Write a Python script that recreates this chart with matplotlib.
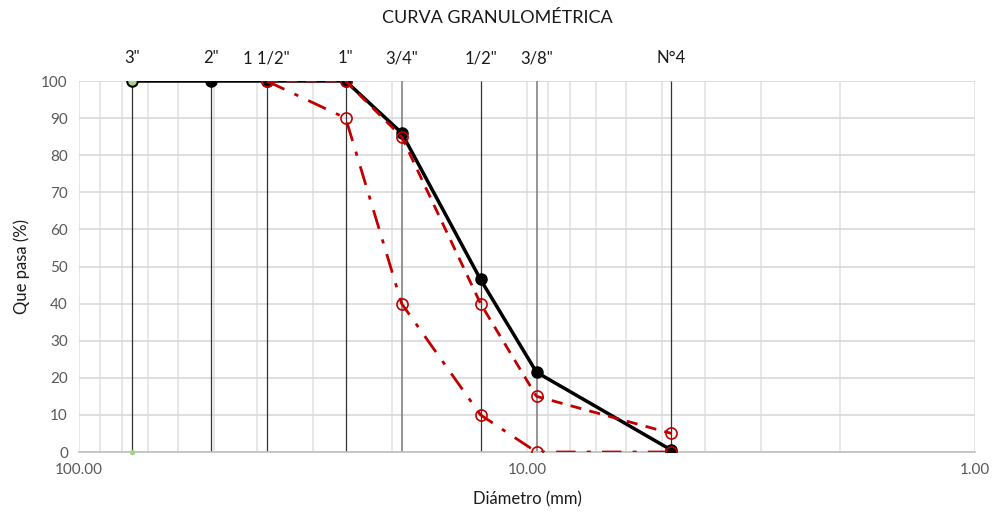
import matplotlib.pyplot as plt
from matplotlib.ticker import FixedLocator, FixedFormatter, NullFormatter

plt.rcParams["font.family"] = ["Lato", "DejaVu Sans"]

# sieve openings (mm) and names
sieve_names = ['3"', '2"', '1 1/2"', '1"', '3/4"', '1/2"', '3/8"', "N°4"]
sieve_mm = [76.2, 50.8, 38.1, 25.4, 19.05, 12.7, 9.525, 4.76]

# sample passing (%)
muestra = [100, 100, 100, 100, 86, 46.5, 21.5, 0.5]
# upper / lower limits of the spec band (from 1 1/2" down)
lim_mm = [38.1, 25.4, 19.05, 12.7, 9.525, 4.76]
lim_sup = [100, 100, 85, 40, 15, 5]
lim_inf = [100, 90, 40, 10, 0, 0]

red = "#c00000"
grey_txt = "#595959"

fig = plt.figure(figsize=(9.95, 5.18), dpi=100)
ax = fig.add_axes([0.0794, 0.1274, 0.9006, 0.7162])
ax.set_xscale("log")
ax.set_xlim(100, 1)
ax.set_ylim(0, 100)

# grid
ax.set_yticks(range(0, 101, 10))
ax.xaxis.set_major_locator(FixedLocator([100, 10, 1]))
ax.xaxis.set_major_formatter(FixedFormatter(["100.00", "10.00", "1.00"]))
minors = [m * d for d in (1, 10) for m in range(2, 10)]
ax.xaxis.set_minor_locator(FixedLocator(minors))
ax.xaxis.set_minor_formatter(NullFormatter())
ax.grid(True, which="both", axis="x", color="#e3e3e3", lw=1.2)
ax.grid(True, which="major", axis="y", color="#d9d9d9", lw=1.2)
ax.set_axisbelow(True)
for s in ["top", "right", "left"]:
    ax.spines[s].set_visible(False)
ax.spines["bottom"].set_color("#bfbfbf")
ax.spines["bottom"].set_linewidth(1.2)
ax.tick_params(axis="both", which="both", length=0, labelsize=11, colors=grey_txt, pad=8)

# sieve reference lines and labels
for name, d in zip(sieve_names, sieve_mm):
    c = "#8c8c8c" if name in ('3/4"', '3/8"') else "#333333"
    ax.vlines(d, 0, 100, color=c, lw=0.9 if c == "#333333" else 1.3, zorder=1)
    ax.text(d, 104, name, ha="center", va="bottom", fontsize=12, color="#1a1a1a")

ax.plot(sieve_mm, muestra, color="black", lw=2.5, marker="o", ms=8, zorder=3)
ax.plot(lim_mm, lim_inf, color=red, lw=2, ls=(0, (7, 4, 1.5, 4)),
        marker="o", mfc="none", mec=red, ms=8, mew=1.2, zorder=4)
ax.plot(lim_mm, lim_sup, color=red, lw=2, ls=(0, (4, 3)),
        marker="o", mfc="none", mec=red, ms=8, mew=1.2, zorder=4)
ax.plot([sieve_mm[0]], [muestra[0]], marker="o", ms=5, color="#a9d18e", ls="none", zorder=5)
ax.plot([sieve_mm[0]], [0], marker="o", ms=3, color="#a9d18e", ls="none", zorder=5, clip_on=False)

ax.set_xlabel("Diámetro (mm)", fontsize=12, color="#1a1a1a", labelpad=10)
ax.set_ylabel("Que pasa (%)", fontsize=12, color="#1a1a1a", labelpad=8)
fig.text(0.5, 0.965, "CURVA GRANULOMÉTRICA", ha="center", va="center", fontsize=13, color="#1a1a1a")

fig.savefig("out.png", dpi=100)
